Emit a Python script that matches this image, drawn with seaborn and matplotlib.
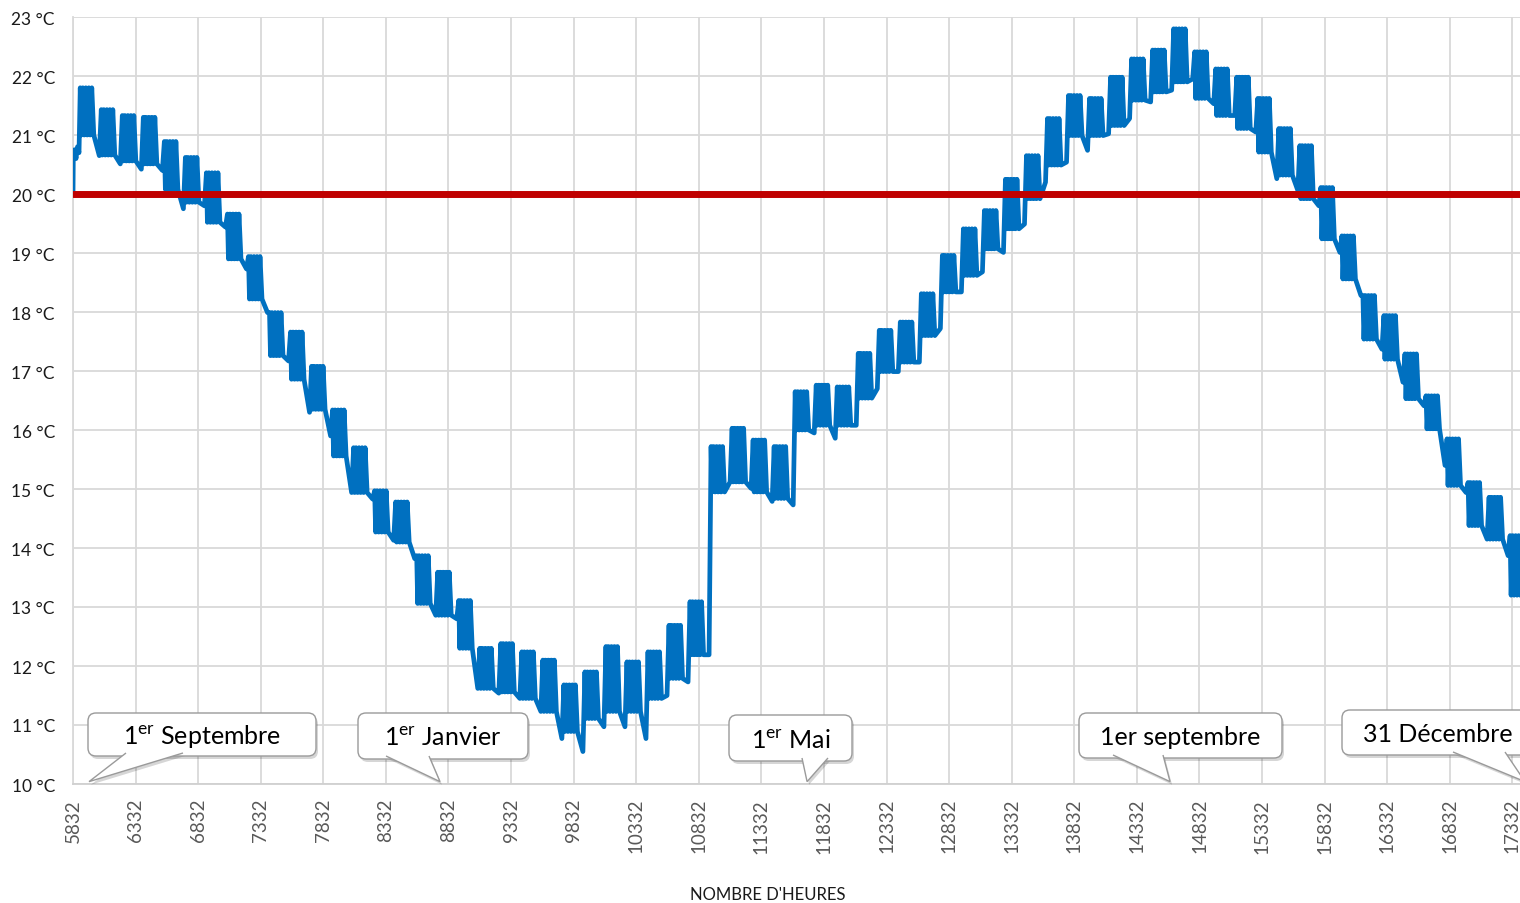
import numpy as np
import pandas as pd
import matplotlib
matplotlib.use("Agg")
import matplotlib.pyplot as plt
import seaborn as sns
from matplotlib.patches import FancyBboxPatch, Polygon
from matplotlib import transforms as mtransforms

sns.set_theme(style="white")
plt.rcParams['font.family'] = ['Lato', 'DejaVu Sans']
plt.rcParams['mathtext.fontset'] = 'custom'
plt.rcParams['mathtext.rm'] = 'Lato'
plt.rcParams['mathtext.it'] = 'Lato:italic'
plt.rcParams['mathtext.bf'] = 'Lato:bold'

# ---------------- data ----------------
lead_hours = [5832, 5834, 5844, 5856, 5868, 5880]
lead_temps = [20.0, 20.55, 20.75, 20.6, 20.8, 20.7]

first_week_start = 5882
week_length = 168

# weekday upper envelope, weekday lower envelope, weekend low (one per week)
week_top = [21.80, 21.43, 21.33, 21.30, 20.89, 20.62, 20.36, 19.66, 18.94, 17.99,
            17.66, 17.08, 16.34, 15.70, 14.97, 14.78, 13.87, 13.59, 13.11, 12.30,
            12.38, 12.24, 12.10, 11.68, 11.90, 12.33, 12.07, 12.24, 12.69, 13.09,
            15.72, 16.03, 15.83, 15.72, 16.65, 16.76, 16.73, 17.30, 17.69, 17.83,
            18.31, 18.96, 19.41, 19.72, 20.25, 20.65, 21.28, 21.67, 21.62, 21.98,
            22.29, 22.44, 22.80, 22.41, 22.12, 21.98, 21.62, 21.11, 20.82, 20.11,
            19.29, 18.28, 17.94, 17.29, 16.58, 15.85, 15.11, 14.86, 14.21]
week_band_low = [21.00, 20.66, 20.56, 20.51, 20.08, 19.86, 19.52, 18.90, 18.22, 17.26,
                 16.86, 16.35, 15.56, 14.94, 14.27, 14.10, 13.06, 12.86, 12.30, 11.62,
                 11.56, 11.45, 11.23, 10.89, 11.11, 11.23, 11.23, 11.45, 11.79, 12.19,
                 14.95, 15.12, 14.95, 14.84, 16.00, 16.08, 16.08, 16.54, 16.99, 17.15,
                 17.60, 18.34, 18.62, 19.07, 19.41, 19.92, 20.49, 20.99, 20.99, 21.16,
                 21.59, 21.73, 21.90, 21.62, 21.33, 21.11, 20.71, 20.32, 19.92, 19.24,
                 18.56, 17.54, 17.20, 16.53, 16.02, 15.06, 14.38, 14.15, 13.20]
weekend_low = [20.65, 20.51, 20.42, 20.40, 19.75, 19.80, 19.44, 18.73, 17.99, 17.17,
               16.30, 15.90, 14.94, 14.83, 14.13, 13.82, 12.86, 12.80, 11.62, 11.54,
               11.45, 11.23, 10.77, 10.55, 10.97, 10.97, 10.77, 11.50, 11.73, 12.19,
               15.12, 15.01, 14.79, 14.73, 15.95, 15.86, 16.08, 16.70, 16.99, 17.15,
               17.72, 18.34, 18.68, 19.01, 19.49, 20.20, 20.54, 20.74, 21.02, 21.28,
               21.56, 21.76, 21.95, 21.53, 21.33, 21.05, 20.26, 20.06, 19.80, 19.01,
               18.28, 17.37, 16.81, 16.41, 15.40, 14.94, 14.15, 13.87, 13.10]

threshold = 20
y_ticks = list(range(10, 24))
x_ticks = list(range(5832, 17333, 500))
x_limits = (5832, 17393)

event_labels = [r"1$^{\mathrm{er}}$ Septembre", r"1$^{\mathrm{er}}$ Janvier",
                r"1$^{\mathrm{er}}$ Mai", "1er septembre", "31 Décembre"]
event_hours = [5960, 8764, 11697, 14597, 17433]

# ---------------- build the drawn series ----------------
top_offsets = [8, 28, 52, 76, 100]
low_offsets = [16, 40, 64, 88, 116]
hours = list(lead_hours)
temps = list(lead_temps)
for i, (top, low, wk) in enumerate(zip(week_top, week_band_low, weekend_low)):
    s = first_week_start + week_length * i
    for to, lo in zip(top_offsets, low_offsets):
        hours.append(s + to); temps.append(top)
        hours.append(s + lo); temps.append(low)
    hours.append(s + 160); temps.append(wk)
df = pd.DataFrame({"hour": hours, "temp": temps})

# ---------------- figure ----------------
W, H = 1520, 904
fig = plt.figure(figsize=(W / 100, H / 100), dpi=100)
fig.patch.set_facecolor("white")
ax = fig.add_axes([73 / W, 1 - 785 / H, (W - 73) / W, (785 - 18) / H])
ax.set_facecolor("white")

sns.lineplot(data=df, x="hour", y="temp", color="#0070C0", linewidth=3.4,
             estimator=None, sort=False, ax=ax, zorder=3)
ax.axhline(threshold, color="#C00000", linewidth=5.0, zorder=4)

ax.set_xlim(*x_limits)
ax.set_ylim(y_ticks[0], y_ticks[-1])
ax.set_yticks(y_ticks)
ax.set_yticklabels([f"{v} °C" for v in y_ticks], fontsize=12.5, color="#1a1a1a")
ax.set_xticks(x_ticks)
ax.set_xticklabels([str(v) for v in x_ticks], rotation=90, fontsize=13.5, color="#595959")
ax.tick_params(axis="y", length=0, pad=13)
ax.tick_params(axis="x", length=0, pad=10)
ax.set_xlabel("")
ax.set_ylabel("")
ax.grid(True, color="#D9D9D9", linewidth=1.3)
ax.set_axisbelow(True)
for side in ["top", "right"]:
    ax.spines[side].set_visible(False)
ax.spines["left"].set_color("#D9D9D9")
ax.spines["left"].set_linewidth(1.3)
ax.spines["bottom"].set_color("#D0D0D0")
ax.spines["bottom"].set_linewidth(1.3)

fig.text(768 / W, 1 - 895 / H, "NOMBRE D'HEURES", ha="center", va="center",
         fontsize=12, color="#1a1a1a")

# ---------------- callouts ----------------
T = mtransforms.Affine2D().scale(1 / W, -1 / H).translate(0, 1) + fig.transFigure
boxes = [(88, 714, 316, 757, 126, 183),
         (358, 714, 528, 760, 386, 429),
         (729, 716, 852, 762, 802, 828),
         (1079, 714, 1282, 759, 1113, 1163),
         (1342, 711, 1545, 756, 1453, 1505)]
fig.canvas.draw()
for label, hr, (x0, y0, x1, y1, bl, br) in zip(event_labels, event_hours, boxes):
    disp = ax.transData.transform((hr, 10.04))
    tip = (disp[0], H - disp[1])
    for dx, dy, fc, ec, a, z in [(2, 3, "#000000", "none", 0.16, 5),
                                 (0, 0, "white", "#9A9A9A", 1.0, 6)]:
        box = FancyBboxPatch((x0 + dx, y0 + dy), x1 - x0, y1 - y0,
                             boxstyle="round,pad=0,rounding_size=8",
                             facecolor=fc, edgecolor=ec, linewidth=1.0, alpha=a,
                             transform=T, zorder=z)
        fig.add_artist(box)
        wedge = Polygon([(bl + dx, y1 - 3 + dy), (tip[0] + dx, tip[1] + dy),
                         (br + dx, y1 - 3 + dy)], closed=False,
                        facecolor=fc, edgecolor=ec, linewidth=1.0, alpha=a,
                        transform=T, zorder=z + 0.5)
        fig.add_artist(wedge)
    cx = (x0 + x1) / 2 if x1 <= W else 1438
    fig.text(cx / W, 1 - ((y0 + y1) / 2 + 1) / H, label, ha="center", va="center",
             fontsize=18, color="#000000", zorder=8)

fig.savefig("out.png", dpi=100)
